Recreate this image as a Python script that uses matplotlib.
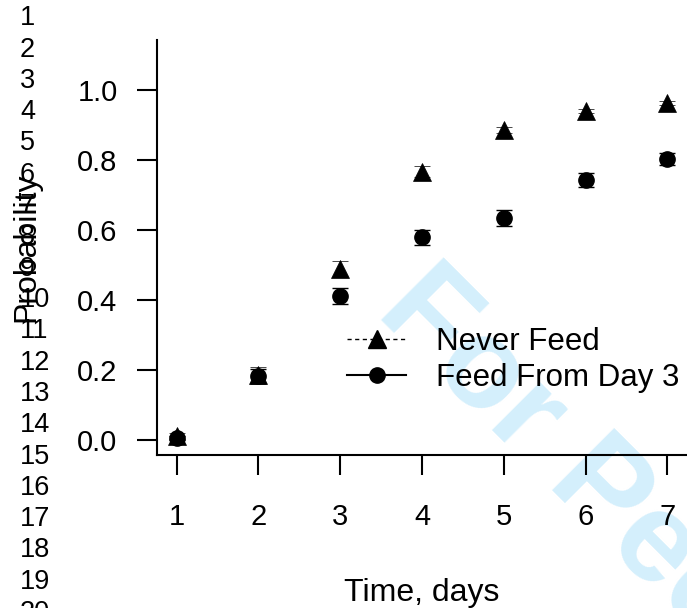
import matplotlib
matplotlib.use("Agg")
import matplotlib.pyplot as plt
from matplotlib.lines import Line2D

plt.rcParams['font.family'] = ['Liberation Sans', 'DejaVu Sans']

# data
days = [1, 2, 3, 4, 5, 6, 7]
never_feed = [0.010, 0.184, 0.488, 0.767, 0.886, 0.941, 0.964]
never_err = [0.008, 0.024, 0.023, 0.015, 0.008, 0.006, 0.005]
feed_day3 = [0.005, 0.183, 0.411, 0.579, 0.634, 0.744, 0.803]
feed_err = [0.006, 0.020, 0.022, 0.021, 0.022, 0.020, 0.018]
y_ticks = [0.0, 0.2, 0.4, 0.6, 0.8, 1.0]
line_numbers = list(range(1, 21))

W, H = 687, 608
fig = plt.figure(figsize=(W / 100, H / 100), dpi=100)
ax = fig.add_axes([157 / W, 1 - 455 / H, (W - 157) / W, (455 - 40) / H])
ax.patch.set_visible(False)

# watermark behind everything
fig.text(375 / W, 1 - 313 / H, "For Peer Review", rotation=-45, rotation_mode='anchor',
         ha='left', va='baseline', fontsize=92, fontweight='bold', color='#d4effc', zorder=-5)

# Feed From Day 3 (solid error bars, circles)
ax.errorbar(days, feed_day3, yerr=feed_err, fmt='o', color='black', ms=11, mew=1,
            elinewidth=1.5, capsize=6, capthick=1.5, zorder=3)
# Never Feed (dashed error bars, triangles)
eb = ax.errorbar(days, never_feed, yerr=never_err, fmt='^', color='black', ms=13, mew=0.5,
                 elinewidth=1.2, capsize=6, capthick=1.2, zorder=4)
for lc in eb[2]:
    lc.set_linestyle((0, (3, 2)))

ax.set_xlim(0.76, 7.24)
ax.set_ylim(-0.044, 1.144)
ax.set_xticks(days)
ax.set_yticks(y_ticks)
ax.set_yticklabels([f"{v:.1f}" for v in y_ticks])
ax.spines['top'].set_visible(False)
ax.spines['right'].set_visible(False)
for s in ['left', 'bottom']:
    ax.spines[s].set_linewidth(1.5)
ax.tick_params(axis='both', direction='out', length=14.4, width=1.5, labelsize=21)
ax.tick_params(axis='x', pad=20)
ax.tick_params(axis='y', pad=14)

fig.text(422 / W, 1 - 601 / H, "Time, days", ha='center', va='baseline', fontsize=23)
fig.text(26 / W, 1 - 247 / H, "Probability", rotation=90, ha='center', va='center', fontsize=23)

# manuscript line numbers down the left margin
for n in line_numbers:
    fig.text(20 / W, 1 - (18.3 + (n - 1) * 31.3) / H, str(n), ha='left', va='center', fontsize=19.5)

handles = [
    Line2D([], [], color='black', lw=1, linestyle=(0, (3, 2.5)), marker='^', ms=13),
    Line2D([], [], color='black', lw=1.5, marker='o', ms=11),
]
fig.legend(handles, ["Never Feed", "Feed From Day 3"], loc='center left',
           bbox_to_anchor=(347 / W, 1 - 360 / H), frameon=False, fontsize=22.5,
           borderpad=0, borderaxespad=0, handlelength=1.9, handletextpad=0.95, labelspacing=0.2)

fig.savefig("out.png", dpi=100)
